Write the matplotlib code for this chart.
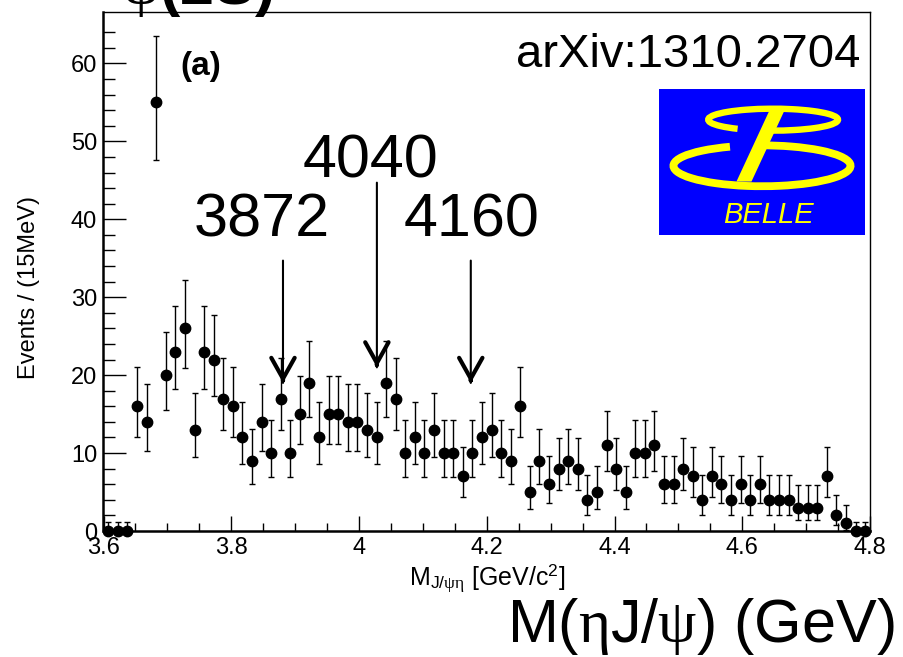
import numpy as np
import matplotlib
matplotlib.use("Agg")
import matplotlib.pyplot as plt
from matplotlib.patches import Rectangle, Arc, Polygon

plt.rcParams['font.family'] = ['Liberation Sans', 'DejaVu Sans']
plt.rcParams['mathtext.fontset'] = 'custom'
plt.rcParams['mathtext.rm'] = 'Liberation Sans'
plt.rcParams['mathtext.it'] = 'Liberation Serif'
plt.rcParams['mathtext.bf'] = 'Liberation Sans:bold'

# histogram: 80 bins of 15 MeV from 3.6 to 4.8 GeV
bin_lo = 3.6
bin_width = 0.015
counts = [0, 0, 0, 16, 14, 55, 20, 23, 26, 13,
          23, 22, 17, 16, 12, 9, 14, 10, 17, 10,
          15, 19, 12, 15, 15, 14, 14, 13, 12, 19,
          17, 10, 12, 10, 13, 10, 10, 7, 10, 12,
          13, 10, 9, 16, 5, 9, 6, 8, 9, 8,
          4, 5, 11, 8, 5, 10, 10, 11, 6, 6,
          8, 7, 4, 7, 6, 4, 6, 4, 6, 4,
          4, 4, 3, 3, 3, 7, 2, 1, 0, 0]
empty_err_up = 1.1   # upper error drawn on empty bins

# arrow annotations (mass labels)
arrow_labels = ['3872', '4040', '4160']
arrow_x = [3.881, 4.028, 4.175]
arrow_top = [34.7, 44.7, 34.7]
arrow_tip = [19.0, 21.0, 19.0]
label_x = [3.848, 4.018, 4.176]
label_y = [37.8, 45.4, 37.8]

x_ticks = [3.6, 3.8, 4.0, 4.2, 4.4, 4.6, 4.8]
x_ticklabels = ['3.6', '3.8', '4', '4.2', '4.4', '4.6', '4.8']
y_ticks = [0, 10, 20, 30, 40, 50, 60]


def chi2_wh(k, z):
    # Wilson-Hilferty approximation of chi2 quantile
    h = 2.0 / (9.0 * k)
    return k * (1 - h + z * np.sqrt(h)) ** 3


n = np.array(counts, dtype=float)
centers = bin_lo + bin_width * (np.arange(len(n)) + 0.5)
safe = np.where(n > 0, n, 1.0)
err_lo = np.where(n > 0, n - 0.5 * chi2_wh(2 * safe, -1.0), 0.0)
err_hi = np.where(n > 0, 0.5 * chi2_wh(2 * safe + 2, 1.0) - n, empty_err_up)

W, H = 904, 657
fig = plt.figure(figsize=(W / 100, H / 100), dpi=100)
ax = fig.add_axes([103.5 / W, 1 - 531 / H, 766.5 / W, 519 / H])

ax.errorbar(centers, n, yerr=[err_lo, err_hi], fmt='o', color='black',
            ms=7.5, elinewidth=1.0, capsize=2.3, capthick=1.0, clip_on=False, zorder=3)

ax.set_xlim(3.6, 4.8)
ax.set_ylim(0, 66.6)
ax.set_xticks(x_ticks)
ax.set_xticklabels(x_ticklabels)
ax.set_yticks(y_ticks)
ax.set_xticks(np.arange(3.6, 4.8001, 0.05), minor=True)
ax.set_yticks(np.arange(0, 66, 2), minor=True)

ax.tick_params(axis='both', which='both', direction='in', top=False, right=False,
               labelsize=17, width=1.0, color='black')
ax.tick_params(axis='y', which='major', length=16.5, pad=4.5)
ax.tick_params(axis='y', which='minor', length=8.6)
ax.tick_params(axis='x', which='major', length=10.8, pad=4)
ax.tick_params(axis='x', which='minor', length=5.8)

for side in ['left', 'bottom']:
    ax.spines[side].set_linewidth(1.8)
for side in ['top', 'right']:
    ax.spines[side].set_linewidth(1.0)

ax.set_xlabel(r'M$_{\mathrm{J/}\psi\eta}$ [GeV/c$^{2}$]', fontsize=18)
ax.xaxis.set_label_coords(0.5, -0.062)
ax.set_ylabel('Events / (15MeV)', fontsize=17)
ax.yaxis.set_label_coords(-0.083, 0.47)

# arrows and mass labels
for xa, top, tip, lab, lx, ly in zip(arrow_x, arrow_top, arrow_tip, arrow_labels, label_x, label_y):
    ax.annotate('', xy=(xa, tip), xytext=(xa, top),
                arrowprops=dict(arrowstyle='-', lw=1.5, color='black', shrinkA=0, shrinkB=0))
    ax.annotate('', xy=(xa, tip), xytext=(xa, tip + 0.4),
                arrowprops=dict(arrowstyle='->, head_length=0.75, head_width=0.42',
                                lw=3.0, color='black', shrinkA=0, shrinkB=0,
                                mutation_scale=20))
    ax.text(lx, ly, lab, fontsize=44, ha='center', va='baseline')


# texts in figure pixel positions
def fx(px):
    return px / W


def fy(py):
    return 1 - py / H


fig.text(fx(180), fy(75), '(a)', fontsize=24, fontweight='bold', ha='left', va='baseline')
fig.text(fx(121), fy(4), r'$\psi$(2S)', fontsize=44, fontweight='bold',
         ha='left', va='baseline')
fig.text(fx(860), fy(67), 'arXiv:1310.2704', fontsize=34, ha='right', va='baseline')
fig.text(fx(895), fy(642), r'M($\eta$J/$\psi$) (GeV)', fontsize=44,
         ha='right', va='baseline')

# Belle logo
lax = fig.add_axes([659 / W, 1 - 235 / H, 206 / W, 146 / H])
lax.set_xlim(0, 1)
lax.set_ylim(0, 1)
lax.axis('off')
yellow = '#ffff00'
lax.add_patch(Rectangle((0, 0), 1, 1, facecolor='#0000ff', edgecolor='none'))
lax.add_patch(Arc((0.554, 0.79), 0.63, 0.15, theta1=-95, theta2=200, lw=4.6, color=yellow))
lax.add_patch(Arc((0.50, 0.474), 0.86, 0.28, theta1=-220, theta2=95, lw=5.6, color=yellow))
lax.add_patch(Polygon([(0.546, 0.883), (0.619, 0.883), (0.449, 0.366), (0.376, 0.366)],
                      closed=True, facecolor=yellow, edgecolor='none'))
lax.text(0.53, 0.085, 'BELLE', fontsize=21, style='italic', color=yellow,
         ha='center', va='baseline')

fig.savefig('out.png', dpi=100)
